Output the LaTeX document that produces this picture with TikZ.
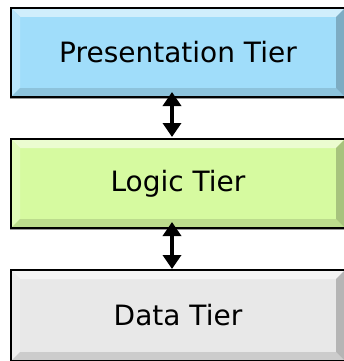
\documentclass[tikz,border=0pt]{standalone}
\usepackage{fontspec}
\setmainfont{DejaVu Sans}
\usetikzlibrary{arrows.meta, calc, positioning, shadows}
\definecolor{presblue}{RGB}{160,221,250}
\definecolor{logicgreen}{RGB}{214,250,160}
\definecolor{datagray}{RGB}{232,232,232}
\tikzset{tier/.style={draw=black, line width=2pt, fill=#1, minimum width=334pt, minimum height=89pt,
    inner sep=0pt, font=\fontsize{28}{32}\selectfont,
    drop shadow={shadow xshift=-1.5pt, shadow yshift=-1.5pt, fill=black!40, opacity=1},
    path picture={
      % bevel facets
      \fill[#1!50!white] (path picture bounding box.north west) -- (path picture bounding box.north east)
        -- ++(-9pt,-9pt) -- ($(path picture bounding box.north west)+(9pt,-9pt)$) -- cycle;
      \fill[#1!75!white] (path picture bounding box.north west) -- ++(9pt,-9pt)
        -- ($(path picture bounding box.south west)+(9pt,9pt)$) -- (path picture bounding box.south west) -- cycle;
      \fill[#1!88!black] (path picture bounding box.south west) -- (path picture bounding box.south east)
        -- ++(-9pt,9pt) -- ($(path picture bounding box.south west)+(9pt,9pt)$) -- cycle;
      \fill[#1!78!black] (path picture bounding box.north east) -- ++(-9pt,-9pt)
        -- ($(path picture bounding box.south east)+(-9pt,9pt)$) -- (path picture bounding box.south east) -- cycle;
    }}}
\tikzset{tierarrow/.style={{Triangle[width=18pt,length=14pt]}-{Triangle[width=18pt,length=14pt]}, line width=4.5pt}}

\begin{document}
\begin{tikzpicture}[x=1pt, y=-1pt, node distance=40pt]
  \useasboundingbox (0,0) rectangle (343,361);

  \node[tier=presblue] (pres) at (178,52.5) {Presentation Tier};
  \node[tier=logicgreen, below=of pres] (logic) {Logic Tier};
  \node[tier=datagray, below=of logic, minimum height=91pt] (data) {Data Tier};

  \draw[tierarrow, shorten <=-6pt, shorten >=1pt] ([xshift=-6pt]pres.south) -- ([xshift=-6pt]logic.north);
  \draw[tierarrow, shorten <=-7pt] ([xshift=-6pt]logic.south) -- ([xshift=-6pt]data.north);
\end{tikzpicture}
\end{document}
